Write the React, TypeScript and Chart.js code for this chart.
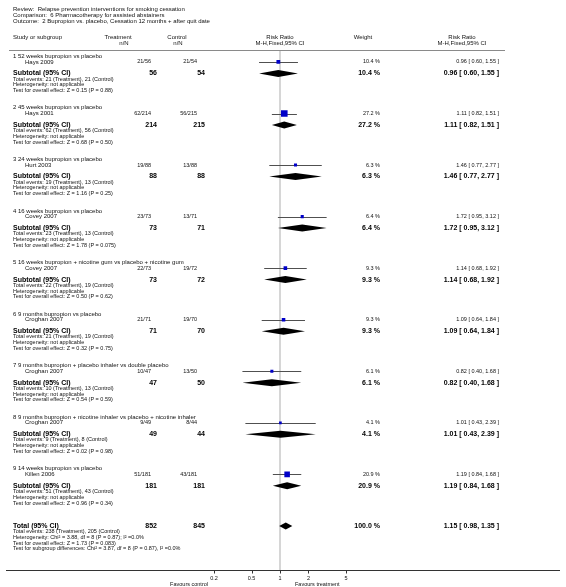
import React, { useEffect, useRef } from "react";
import { Chart, registerables } from "chart.js";

Chart.register(...registerables);

// ---- data ----
const reviewTitle = "Review:  Relapse prevention interventions for smoking cessation";
const comparisonTitle = "Comparison:  6 Pharmacotherapy for assisted abstainers";
const outcomeTitle = "Outcome:  2 Bupropion vs. placebo, Cessation 12 months + after quit date";

const groupTitles = [
  "1 52 weeks bupropion vs placebo",
  "2 45 weeks bupropion vs placebo",
  "3 24 weeks bupropion vs placebo",
  "4 16 weeks bupropion vs placebo",
  "5 16 weeks bupropion + nicotine gum vs placebo + nicotine gum",
  "6 9 months bupropion vs placebo",
  "7 9 months bupropion + placebo inhaler vs double placebo",
  "8 9 months bupropion + nicotine inhaler vs placebo + nicotine inhaler",
  "9 14 weeks bupropion vs placebo",
];
const studies = [
  "Hays 2009",
  "Hays 2001",
  "Hurt 2003",
  "Covey 2007",
  "Covey 2007",
  "Croghan 2007",
  "Croghan 2007",
  "Croghan 2007",
  "Killen 2006",
];
const trtEvents = [21, 62, 19, 23, 22, 21, 10, 9, 51];
const trtTotal = [56, 214, 88, 73, 73, 71, 47, 49, 181];
const ctlEvents = [21, 56, 13, 13, 19, 19, 13, 8, 43];
const ctlTotal = [54, 215, 88, 71, 72, 70, 50, 44, 181];
const weights = [10.4, 27.2, 6.3, 6.4, 9.3, 9.3, 6.1, 4.1, 20.9];
const rr = [0.96, 1.11, 1.46, 1.72, 1.14, 1.09, 0.82, 1.01, 1.19];
const lo = [0.6, 0.82, 0.77, 0.95, 0.68, 0.64, 0.4, 0.43, 0.84];
const hi = [1.55, 1.51, 2.77, 3.12, 1.92, 1.84, 1.68, 2.39, 1.68];
const zStats = ["0.15", "0.68", "1.16", "1.78", "0.50", "0.32", "0.54", "0.02", "0.96"];
const pVals = ["0.88", "0.50", "0.25", "0.075", "0.62", "0.75", "0.59", "0.98", "0.34"];

const overallTrtTotal = 852;
const overallCtlTotal = 845;
const overallTrtEvents = 238;
const overallCtlEvents = 205;
const overallWeight = 100.0;
const overallRR = 1.15;
const overallLo = 0.98;
const overallHi = 1.35;
const overallHetText = "Heterogeneity: Chi\u00b2 = 3.88, df = 8 (P = 0.87); I\u00b2 =0.0%";
const overallTestText = "Test for overall effect: Z = 1.73 (P = 0.083)";
const subgroupTestText = "Test for subgroup differences: Chi\u00b2 = 3.87, df = 8 (P = 0.87), I\u00b2 =0.0%";

const xTicks = [0.2, 0.5, 1, 2, 5];
const xTickLabels = ["0.2", "0.5", "1", "2", "5"];
const favoursLeft = "Favours control";
const favoursRight = "Favours treatment";

// ---- layout (rows) ----
const ROWS_PER_GROUP = 9;
const TOTAL_ROW = 82;

const FONT = "'Liberation Sans', Arial, sans-serif";
const fmt = (v: number) => v.toFixed(2);
const ciText = (r: number, l: number, h: number) => `${fmt(r)} [ ${fmt(l)}, ${fmt(h)} ]`;

const forestPlugin = {
  id: "forest",
  beforeDatasetsDraw(chart: any) {
    const { ctx, scales, chartArea } = chart;
    const x = scales.x;
    const y = scales.y;
    ctx.save();
    // line of no effect
    const x1 = Math.round(x.getPixelForValue(1));
    ctx.strokeStyle = "#d6d6d6";
    ctx.lineWidth = 2;
    ctx.beginPath();
    ctx.moveTo(x1, y.getPixelForValue(-1));
    ctx.lineTo(x1, chartArea.bottom);
    ctx.stroke();

    // header rule
    const hy = Math.round(y.getPixelForValue(-1.05)) + 0.5;
    ctx.strokeStyle = "#8a8a8a";
    ctx.lineWidth = 1;
    ctx.beginPath();
    ctx.moveTo(9, hy);
    ctx.lineTo(505, hy);
    ctx.stroke();

    // CI lines
    ctx.strokeStyle = "#505050";
    ctx.lineWidth = 1;
    studies.forEach((_, i) => {
      const yy = Math.round(y.getPixelForValue(i * ROWS_PER_GROUP + 1)) + 0.5;
      ctx.beginPath();
      ctx.moveTo(x.getPixelForValue(lo[i]), yy);
      ctx.lineTo(x.getPixelForValue(hi[i]), yy);
      ctx.stroke();
    });

    // diamonds
    const diamond = (r: number, l: number, h: number, row: number) => {
      const yy = y.getPixelForValue(row);
      const half = 3.5;
      ctx.fillStyle = "#000";
      ctx.beginPath();
      ctx.moveTo(x.getPixelForValue(l), yy);
      ctx.lineTo(x.getPixelForValue(r), yy - half);
      ctx.lineTo(x.getPixelForValue(h), yy);
      ctx.lineTo(x.getPixelForValue(r), yy + half);
      ctx.closePath();
      ctx.fill();
    };
    studies.forEach((_, i) => diamond(rr[i], lo[i], hi[i], i * ROWS_PER_GROUP + 3));
    diamond(overallRR, overallLo, overallHi, TOTAL_ROW);

    // bottom axis
    const by = Math.round(chartArea.bottom) + 0.5;
    ctx.strokeStyle = "#333";
    ctx.lineWidth = 1;
    ctx.beginPath();
    ctx.moveTo(6, by);
    ctx.lineTo(560, by);
    ctx.stroke();
    xTicks.forEach((t) => {
      const tx = Math.round(x.getPixelForValue(t)) + 0.5;
      ctx.beginPath();
      ctx.moveTo(tx, by);
      ctx.lineTo(tx, by + 3);
      ctx.stroke();
    });
    ctx.restore();
  },
  afterDatasetsDraw(chart: any) {
    const { ctx, scales, chartArea } = chart;
    const y = scales.y;
    const x = scales.x;
    ctx.save();
    ctx.textBaseline = "middle";
    const t = (
      s: string,
      px: number,
      row: number,
      align: CanvasTextAlign = "left",
      size = 5.5,
      bold = false,
      color = "#111"
    ) => {
      ctx.font = `${bold ? "bold " : ""}${size}px ${FONT}`;
      ctx.textAlign = align;
      ctx.fillStyle = color;
      ctx.fillText(s, px, y.getPixelForValue(row));
    };
    // titles
    t(reviewTitle, 13, -8.2, "left", 6);
    t(comparisonTitle, 13, -7.15, "left", 6);
    t(outcomeTitle, 13, -6.1, "left", 6);
    // column headers
    t("Study or subgroup", 13, -3.3, "left", 6);
    t("Treatment", 118, -3.3, "center", 6);
    t("n/N", 124, -2.3, "center", 6);
    t("Control", 177, -3.3, "center", 6);
    t("n/N", 178, -2.3, "center", 6);
    t("Risk Ratio", 280, -3.3, "center", 6);
    t("M-H,Fixed,95% CI", 280, -2.3, "center", 6);
    t("Weight", 363, -3.3, "center", 6);
    t("Risk Ratio", 462, -3.3, "center", 6);
    t("M-H,Fixed,95% CI", 462, -2.3, "center", 6);

    groupTitles.forEach((g, i) => {
      const base = i * ROWS_PER_GROUP;
      t(g, 13, base, "left", 6);
      t(studies[i], 25, base + 1, "left", 6);
      t(`${trtEvents[i]}/${trtTotal[i]}`, 151, base + 1, "right", 5.5);
      t(`${ctlEvents[i]}/${ctlTotal[i]}`, 197, base + 1, "right", 5.5);
      t(`${weights[i].toFixed(1)} %`, 380, base + 1, "right", 5.5);
      t(ciText(rr[i], lo[i], hi[i]), 499, base + 1, "right", 5.5);

      t("Subtotal (95% CI)", 13, base + 3, "left", 7, true, "#000");
      t(`${trtTotal[i]}`, 157, base + 3, "right", 7, true, "#000");
      t(`${ctlTotal[i]}`, 205, base + 3, "right", 7, true, "#000");
      t(`${weights[i].toFixed(1)} %`, 380, base + 3, "right", 7, true, "#000");
      t(ciText(rr[i], lo[i], hi[i]), 499, base + 3, "right", 7, true, "#000");

      t(`Total events: ${trtEvents[i]} (Treatment), ${ctlEvents[i]} (Control)`, 13, base + 4, "left", 5.5);
      t("Heterogeneity: not applicable", 13, base + 5, "left", 5.5);
      t(`Test for overall effect: Z = ${zStats[i]} (P = ${pVals[i]})`, 13, base + 6, "left", 5.5);
    });

    t("Total (95% CI)", 13, TOTAL_ROW, "left", 7, true, "#000");
    t(`${overallTrtTotal}`, 157, TOTAL_ROW, "right", 7, true, "#000");
    t(`${overallCtlTotal}`, 205, TOTAL_ROW, "right", 7, true, "#000");
    t(`${overallWeight.toFixed(1)} %`, 380, TOTAL_ROW, "right", 7, true, "#000");
    t(ciText(overallRR, overallLo, overallHi), 499, TOTAL_ROW, "right", 7, true, "#000");
    t(`Total events: ${overallTrtEvents} (Treatment), ${overallCtlEvents} (Control)`, 13, TOTAL_ROW + 1, "left", 5.5);
    t(overallHetText, 13, TOTAL_ROW + 2, "left", 5.5);
    t(overallTestText, 13, TOTAL_ROW + 3, "left", 5.5);
    t(subgroupTestText, 13, TOTAL_ROW + 4, "left", 5.5);

    // axis labels
    ctx.font = `5.5px ${FONT}`;
    ctx.fillStyle = "#111";
    ctx.textAlign = "center";
    xTicks.forEach((tv, i) => {
      ctx.fillText(xTickLabels[i], x.getPixelForValue(tv), chartArea.bottom + 8);
    });
    ctx.textAlign = "right";
    ctx.fillText(favoursLeft, 208, chartArea.bottom + 14.5);
    ctx.textAlign = "left";
    ctx.fillText(favoursRight, 295, chartArea.bottom + 14.5);
    ctx.restore();
  },
};

export default function App() {
  const ref = useRef<HTMLCanvasElement>(null);
  useEffect(() => {
    document.body.style.margin = "0";
    const canvas = ref.current!;
    const points = studies.map((_, i) => ({ x: rr[i], y: i * ROWS_PER_GROUP + 1 }));
    const radii = weights.map((w) => (2 + w * 0.17) / Math.SQRT2);
    const chart = new Chart(canvas, {
      type: "scatter",
      data: {
        datasets: [
          {
            data: points,
            pointStyle: "rect",
            pointRadius: radii,
            backgroundColor: "#0000c8",
            borderColor: "#0000c8",
            borderWidth: 0,
          },
        ],
      },
      options: {
        animation: false,
        responsive: false,
        events: [],
        layout: { padding: { left: 185.6, right: 191.6, top: 2.5, bottom: 17 } },
        scales: {
          x: { type: "logarithmic", min: 0.1, max: 10, display: false },
          y: { type: "linear", min: -9, max: 89.7, reverse: true, display: false },
        },
        plugins: { legend: { display: false }, tooltip: { enabled: false } },
      },
      plugins: [forestPlugin],
    } as any);
    return () => chart.destroy();
  }, []);
  return (
    <div style={{ position: "absolute", left: 0, top: 0, width: 566, height: 587, background: "#fff" }}>
      <canvas ref={ref} width={566} height={587} style={{ display: "block", width: 566, height: 587 }} />
    </div>
  );
}
